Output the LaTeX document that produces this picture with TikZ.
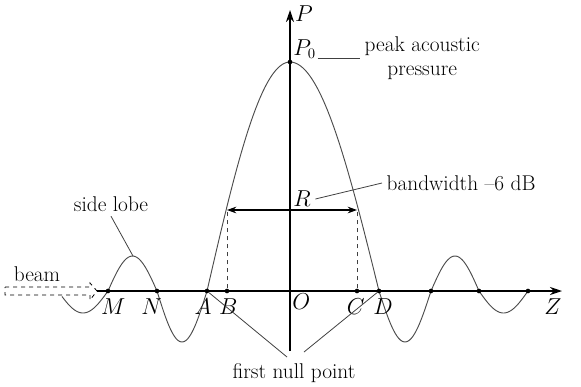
\documentclass[tikz,border=0pt]{standalone}
\usetikzlibrary{arrows.meta,positioning}

\begin{document}
\begin{tikzpicture}[x=0.75pt,y=-0.75pt,
  font=\fontsize{16}{18}\selectfont,
  axis/.style={line width=1.1pt,-{Stealth[length=9pt,width=6pt]}},
  curve/.style={draw=black!70,line width=0.7pt},
  lead/.style={draw=black!75,line width=0.6pt},
  dot/.style={circle,fill,inner sep=0pt,minimum size=3.5pt}]
  \useasboundingbox (0,0) rectangle (581,386);
  % axes
  \coordinate (O) at (290,291);
  \coordinate (zstart) at (97,291);
  \coordinate (zend) at (562,291);
  \coordinate (pbot) at (290,351);
  \coordinate (ptop) at (290,10);
  \draw[axis] (zstart) -- (zend);
  \draw[axis] (pbot) -- (ptop);
  \node (plab) at (304,14) {$P$};
  \node (zlab) at (553,307) {$Z$};
  \node[anchor=north west,inner sep=1.5pt] (olab) at (O) {$O$};
  % beam pattern: main lobe
  \draw[curve] plot[domain=207:290,samples=50,smooth] (\x,{291-229*cos(90*(290-\x)/83)})
    -- plot[domain=290:379,samples=50,smooth] (\x,{291-229*cos(90*(\x-290)/89)});
  % side lobes
  \foreach \s/\a/\b/\h in {62/58/108/-22, 108/108/157/35, 157/157/207/-51,
                           379/379/431/-51, 431/431/479/35, 479/479/528/-22}
    \draw[curve] plot[domain=\s:\b,samples=30,smooth] (\x,{291-\h*sin(180*(\x-\a)/(\b-\a))});
  % points on the Z axis
  \foreach \x/\n/\dx in {108/M/4, 157/N/-4, 207/A/-3, 227/B/1, 357/C/-1, 379/D/3}
    \node[dot,label={[xshift=\dx,label distance=0pt]below:$\n$}] (\n) at (\x,291) {};
  \foreach \x/\n in {431/z1, 479/z2, 528/z3}
    \node[dot] (\n) at (\x,291) {};
  % peak
  \node[dot,label={[name=p0lab,inner sep=1pt]above right:$P_0$}] (peak) at (290,62) {};
  \node[align=center,anchor=west] (peaktext) at (360,58) {peak acoustic\\pressure};
  \draw[lead] (p0lab.east |- peaktext.west) -- (peaktext.west);
  % bandwidth
  \coordinate (Bt) at (227,210);
  \coordinate (Ct) at (357,210);
  \draw[dashed,black!75,line width=0.6pt] (B) -- (Bt);
  \draw[dashed,black!75,line width=0.6pt] (C) -- (Ct);
  \draw[line width=0.8pt,{Stealth[length=7pt,width=5pt]}-{Stealth[length=7pt,width=5pt]}] (Bt) -- (Ct);
  \node (R) at (302,199) {$R$};
  \node[anchor=west] (bwtext) at (382,183) {bandwidth --6 dB};
  \draw[lead] (R.east) -- (bwtext.west);
  % side lobe
  \node (lobetext) at (111,204) {side lobe};
  \coordinate (lobetop) at (133,256);
  \draw[lead] (lobetext.south) -- (lobetop);
  % beam
  \node (beamtext) at (37,274) {beam};
  \draw[dashed,line width=0.6pt] (5,287) -- (90,287) -- (90,283) -- (zstart)
    -- (90,300) -- (90,295) -- (5,295) -- cycle;
  % first null point
  \node (nulltext) at (294,373) {first null point};
  \coordinate (nl) at (287,357);
  \coordinate (nr) at (304,352);
  \draw[lead] (A) -- (nl);
  \draw[lead] (D) -- (nr);
\end{tikzpicture}
\end{document}
